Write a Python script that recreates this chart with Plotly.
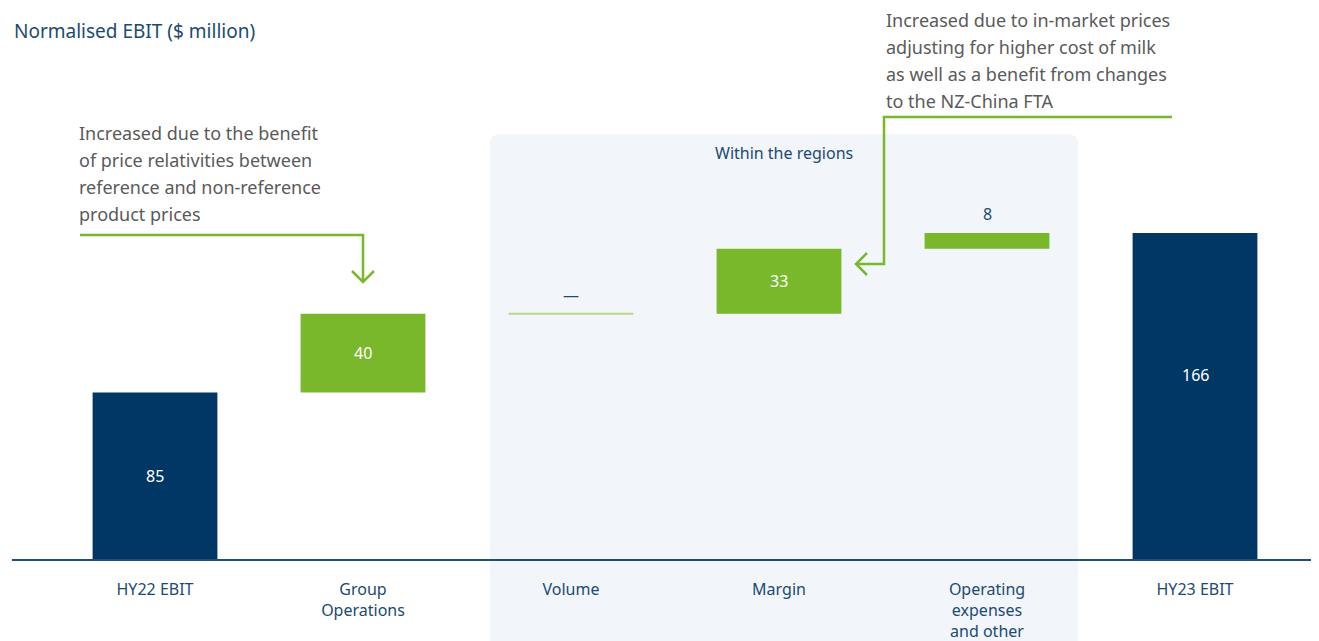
import plotly.graph_objects as go

# data
categories = ['HY22 EBIT', 'Group<br>Operations', 'Volume', 'Margin',
              'Operating<br>expenses<br>and other', 'HY23 EBIT']
measures = ['absolute', 'relative', 'relative', 'relative', 'relative', 'total']
values = [85, 40, 0, 33, 8, 166]
value_labels = ['85', '40', '—', '33', '8', '166']

note_left = ['Increased due to the benefit', 'of price relativities between',
             'reference and non-reference', 'product prices']
note_right = ['Increased due to in-market prices', 'adjusting for higher cost of milk',
              'as well as a benefit from changes', 'to the NZ-China FTA']

NAVY = '#003764'
GREEN = '#78b82a'
LIGHT_GREEN = '#b4d98c'
TEXT_NAVY = '#1b4a72'
GREY = '#5a5a5a'
FONT = 'Noto Sans'

# the page puts the figure 8px in from the corner
OFF = 8
W, H = 1319 - OFF, 641 - OFF
ML, MR, MT, MB = 12 - OFF, 0, 0, 81


def px_x(px):
    return (px - OFF - ML) / (W - ML - MR)


def px_y(py):
    return (H - MB - (py - OFF)) / (H - MT - MB)


# running totals for the floating bars
bases, heights, colors = [], [], []
level = 0
for m, v in zip(measures, values):
    if m == 'absolute':
        bases.append(0)
        heights.append(v)
        level = v
        colors.append(NAVY)
    elif m == 'total':
        bases.append(0)
        heights.append(level)
        colors.append(NAVY)
    else:
        bases.append(level)
        heights.append(v)
        level += v
        colors.append(GREEN)

x = list(range(len(categories)))

fig = go.Figure()

fig.add_trace(go.Bar(
    x=x, y=heights, base=bases, width=0.6,
    marker=dict(color=colors, line=dict(width=0)),
    hoverinfo='skip', showlegend=False,
))

# zero change drawn as a thin line
for i, v in enumerate(values):
    if v == 0:
        fig.add_trace(go.Scatter(
            x=[i - 0.3, i + 0.3], y=[bases[i], bases[i]], mode='lines',
            line=dict(color=LIGHT_GREEN, width=2), hoverinfo='skip', showlegend=False,
        ))

# value labels
for i, (b, h, lab) in enumerate(zip(bases, heights, value_labels)):
    if h >= 20:
        # the closing total label sits a little above the middle
        shift = 21 if measures[i] == 'total' else 0
        fig.add_annotation(x=i, y=b + h / 2, yshift=shift, text=lab, showarrow=False,
                           font=dict(color='white', size=16, family=FONT))
    else:
        fig.add_annotation(x=i, y=b + h, text=lab, showarrow=False, yanchor='bottom',
                           yshift=6, font=dict(color=TEXT_NAVY, size=16, family=FONT))

# shaded "within the regions" panel
x0, x1, y0, y1, r = px_x(490), px_x(1078), px_y(134), px_y(660), 0.008
ry = r * (W - ML - MR) / (H - MT - MB)
fig.add_shape(
    type='path', xref='paper', yref='paper', layer='below',
    path=f'M {x0} {y1} L {x0} {y0 - ry} Q {x0} {y0} {x0 + r} {y0} '
         f'L {x1 - r} {y0} Q {x1} {y0} {x1} {y0 - ry} L {x1} {y1} Z',
    fillcolor='#f2f6fb', line=dict(width=0),
)
fig.add_annotation(xref='paper', yref='paper', x=px_x(784), y=px_y(153),
                   xanchor='center', yanchor='middle',
                   text='Within the regions', showarrow=False,
                   font=dict(color=TEXT_NAVY, size=16, family=FONT))

# baseline across the full width
fig.add_shape(type='line', xref='paper', yref='paper',
              x0=px_x(12), x1=px_x(1325), y0=0, y1=0,
              line=dict(color='#1f4e79', width=2))

# title
fig.add_annotation(xref='paper', yref='paper', x=px_x(12), y=px_y(31),
                   xanchor='left', yanchor='middle',
                   text='Normalised EBIT ($ million)', showarrow=False,
                   font=dict(color=TEXT_NAVY, size=19, family=FONT))

# callout texts
for k, line in enumerate(note_left):
    fig.add_annotation(xref='paper', yref='paper', x=px_x(77), y=px_y(133 + 27 * k),
                       xanchor='left', yanchor='middle', text=line, showarrow=False,
                       font=dict(color=GREY, size=18, family=FONT))
for k, line in enumerate(note_right):
    fig.add_annotation(xref='paper', yref='paper', x=px_x(884), y=px_y(20 + 27 * k),
                       xanchor='left', yanchor='middle', text=line, showarrow=False,
                       font=dict(color=GREY, size=18, family=FONT))


def pxpath(points):
    return 'M ' + ' L '.join(f'{px_x(a)} {px_y(b)}' for a, b in points)


arrow_line = dict(color=GREEN, width=2.5)
for pts in [
    [(80, 235), (363, 235), (363, 282)],
    [(352, 271), (363, 282), (374, 271)],
    [(1172, 117), (884, 117), (884, 264), (856, 264)],
    [(867, 253), (856, 264), (867, 275)],
]:
    fig.add_shape(type='path', xref='paper', yref='paper', path=pxpath(pts),
                  line=arrow_line)

fig.update_layout(
    width=W, height=H,
    margin=dict(l=ML, r=MR, t=MT, b=MB),
    plot_bgcolor='rgba(0,0,0,0)', paper_bgcolor='white',
    bargap=0.4,
    font=dict(family=FONT),
)
fig.update_xaxes(
    range=[(ML - 155 + OFF) / 208, (W + OFF - MR - 155) / 208],
    tickvals=x, ticktext=categories,
    showline=False, showgrid=False,
    zeroline=False, ticks='', ticklabelstandoff=18,
    tickfont=dict(color=TEXT_NAVY, size=16, family=FONT),
    fixedrange=True,
)
fig.update_yaxes(range=[0, (H - MT - MB) / 1.97], visible=False, fixedrange=True)

fig.write_html('out.html')
